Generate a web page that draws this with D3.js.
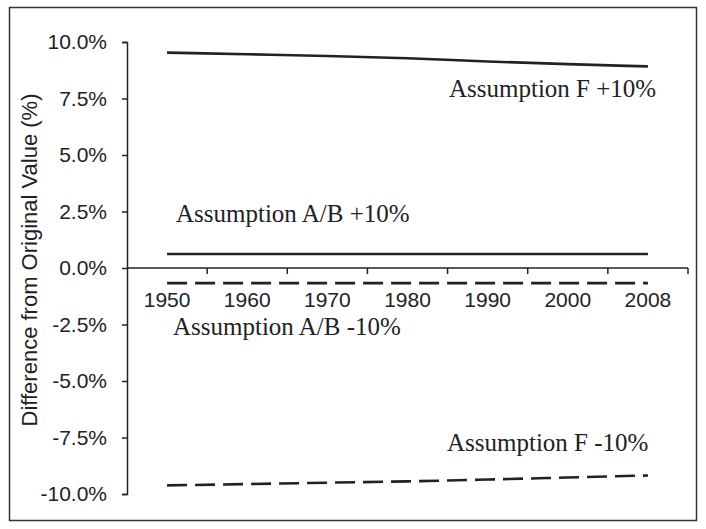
<!DOCTYPE html>
<html>
<head>
<meta charset="utf-8">
<script src="https://cdn.jsdelivr.net/npm/d3@7"></script>
<style>
  body { margin: 0; background: #fff; }
</style>
</head>
<body>
<svg id="chart"></svg>
<script>
//Data
var years = ["1950", "1960", "1970", "1980", "1990", "2000", "2008"];
var fPlus  = [9.53, 9.46, 9.38, 9.28, 9.14, 9.02, 8.92];
var abPlus = [0.62, 0.62, 0.62, 0.62, 0.62, 0.62, 0.62];
var abMinus = [-0.67, -0.67, -0.67, -0.67, -0.67, -0.67, -0.67];
var fMinus = [-9.62, -9.56, -9.50, -9.44, -9.36, -9.27, -9.18];
var yTicks = [10, 7.5, 5, 2.5, 0, -2.5, -5, -7.5, -10];
var labels = ["Assumption F +10%", "Assumption A/B +10%", "Assumption A/B -10%", "Assumption F -10%"];

//Dimensions
var dimensions = {
    width: 706,
    height: 529,
    margin: { top: 42, right: 18, bottom: 35, left: 127 }
};

var svg = d3.select("#chart")
            .attr("width", dimensions.width)
            .attr("height", dimensions.height);

//Outer frame
svg.append("rect")
    .attr("x", 9.5)
    .attr("y", 7.5)
    .attr("width", 687)
    .attr("height", 513)
    .attr("fill", "none")
    .attr("stroke", "#333")
    .attr("stroke-width", 1.5);

//Scales
var xScale = d3.scaleBand()
               .domain(years)
               .range([dimensions.margin.left, 688]);

var yScale = d3.scaleLinear()
               .domain([-10, 10])
               .range([494, dimensions.margin.top]);

var xCenter = function(d, i){ return xScale(years[i]) + xScale.bandwidth() / 2; };

//Y-axis
var yAxisGen = d3.axisLeft(yScale)
                 .tickValues(yTicks)
                 .tickSize(5)
                 .tickPadding(15)
                 .tickFormat(function(d){ return d.toFixed(1) + "%"; });
var yAxis = svg.append("g")
               .attr("transform", "translate(" + dimensions.margin.left + ",0)")
               .call(yAxisGen);
yAxis.select(".domain").attr("stroke", "#222").attr("stroke-width", 1.5);
yAxis.selectAll(".tick line").attr("stroke", "#222").attr("stroke-width", 1.5);
yAxis.selectAll("text")
     .style("font-family", "'Liberation Sans', Arial, sans-serif")
     .style("font-size", "21px")
     .attr("fill", "#222");

//X-axis (labels centred in bands, ticks on band edges)
var y0 = yScale(0);
var xAxisGen = d3.axisBottom(xScale).tickSize(0).tickPadding(24);
var xAxis = svg.append("g")
               .attr("transform", "translate(0," + y0 + ")")
               .call(xAxisGen);
xAxis.select(".domain").remove();
xAxis.selectAll("text")
     .style("font-family", "'Liberation Sans', Arial, sans-serif")
     .style("font-size", "21px")
     .attr("fill", "#222");

svg.append("line")
    .attr("x1", xScale.range()[0])
    .attr("x2", xScale.range()[1])
    .attr("y1", y0)
    .attr("y2", y0)
    .attr("stroke", "#222")
    .attr("stroke-width", 1.5);

var edges = years.map(function(d){ return xScale(d); }).concat([xScale.range()[1]]);
svg.append("g")
    .selectAll("line")
    .data(edges.slice(1))
    .join("line")
    .attr("x1", function(d){ return d; })
    .attr("x2", function(d){ return d; })
    .attr("y1", y0)
    .attr("y2", y0 + 6)
    .attr("stroke", "#222")
    .attr("stroke-width", 1.5);

//Y-axis title
svg.append("text")
    .attr("transform", "rotate(-90)")
    .attr("x", -260)
    .attr("y", 37)
    .attr("text-anchor", "middle")
    .style("font-family", "'Liberation Sans', Arial, sans-serif")
    .style("font-size", "22px")
    .attr("fill", "#222")
    .text("Difference from Original Value (%)");

//Lines
var lineGen = d3.line()
                .x(xCenter)
                .y(function(d){ return yScale(d); })
                .curve(d3.curveMonotoneX);

var series = [
    { values: fPlus, dash: null },
    { values: abPlus, dash: null },
    { values: abMinus, dash: "20,8" },
    { values: fMinus, dash: "20,8" }
];

svg.append("g")
    .selectAll("path")
    .data(series)
    .join("path")
    .attr("d", function(d){ return lineGen(d.values); })
    .attr("fill", "none")
    .attr("stroke", "#222")
    .attr("stroke-width", 2.6)
    .attr("stroke-dasharray", function(d){ return d.dash; });

//Annotations
var labelPos = [[449, 97], [176, 222], [173, 335], [447, 451]];
svg.append("g")
    .selectAll("text")
    .data(labels)
    .join("text")
    .attr("x", function(d, i){ return labelPos[i][0]; })
    .attr("y", function(d, i){ return labelPos[i][1]; })
    .style("font-family", "'Liberation Serif', 'Times New Roman', serif")
    .style("font-size", "25px")
    .attr("fill", "#222")
    .text(function(d){ return d; });
</script>
</body>
</html>
